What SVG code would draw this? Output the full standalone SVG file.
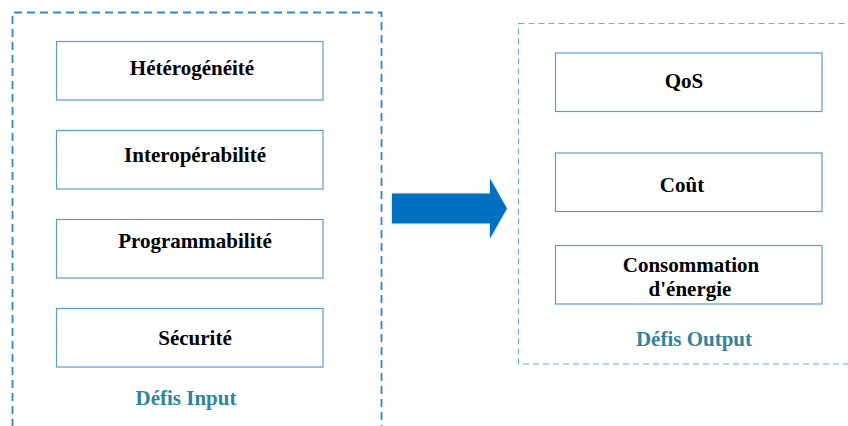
<svg xmlns="http://www.w3.org/2000/svg" width="848" height="426" viewBox="0 0 848 426">
<style>
.box{fill:#fff;stroke:#5B9BD5;stroke-width:1.2}
.t{font-family:"Liberation Serif","Times New Roman",serif;font-weight:bold;font-size:21px;fill:#000;text-anchor:middle}
.lbl{font-family:"Liberation Serif","Times New Roman",serif;font-weight:bold;font-size:21px;fill:#31849B;text-anchor:middle}
</style>
<defs>
<filter id="glow" x="-10%" y="-20%" width="120%" height="140%">
<feGaussianBlur in="SourceAlpha" stdDeviation="1.2" result="b"/>
<feFlood flood-color="#9CC6EA"/>
<feComposite in2="b" operator="in" result="g"/>
<feMerge><feMergeNode in="g"/><feMergeNode in="SourceGraphic"/></feMerge>
</filter>
</defs>
<rect width="848" height="426" fill="#fff"/>
<g id="input-group">
<path d="M12.5 440 V12.5 H381.5 V440" fill="none" stroke="#2F87D3" stroke-width="1.8" stroke-dasharray="8 5"/>
<text class="lbl" x="186" y="405">Défis Input</text>
</g>
<g id="output-group">
<rect x="518.5" y="23.5" width="340" height="340.5" fill="none" stroke="#6AAEE0" stroke-width="1.2" stroke-dasharray="6 4"/>
<text class="lbl" x="694" y="345.5">Défis Output</text>
</g>
<g id="heterogeneite"><rect class="box" x="56.5" y="41.5" width="266.5" height="58.5"/><text class="t" x="192" y="75">Hétérogénéité</text></g>
<g id="interoperabilite"><rect class="box" x="56.5" y="130.5" width="266.5" height="58.5"/><text class="t" x="195" y="162">Interopérabilité</text></g>
<g id="programmabilite"><rect class="box" x="56.5" y="219.5" width="266.5" height="58.5"/><text class="t" x="195" y="248">Programmabilité</text></g>
<g id="securite"><rect class="box" x="56.5" y="308.5" width="266.5" height="58.5"/><text class="t" x="195" y="345">Sécurité</text></g>
<g id="qos"><rect class="box" x="555.5" y="53" width="266.5" height="58.5"/><text class="t" x="684" y="88">QoS</text></g>
<g id="cout"><rect class="box" x="555.5" y="153" width="266.5" height="58.5"/><text class="t" x="682" y="192">Coût</text></g>
<g id="consommation"><rect class="box" x="555.5" y="245.5" width="266.5" height="58.5"/><text class="t" x="691" y="272">Consommation</text><text class="t" x="690" y="296">d'énergie</text></g>
<g id="connectors">
<polygon points="392,193.5 490,193.5 490,178.5 507,208.5 490,238.5 490,223.5 392,223.5" fill="#0070C0" filter="url(#glow)"/>
</g>
</svg>
